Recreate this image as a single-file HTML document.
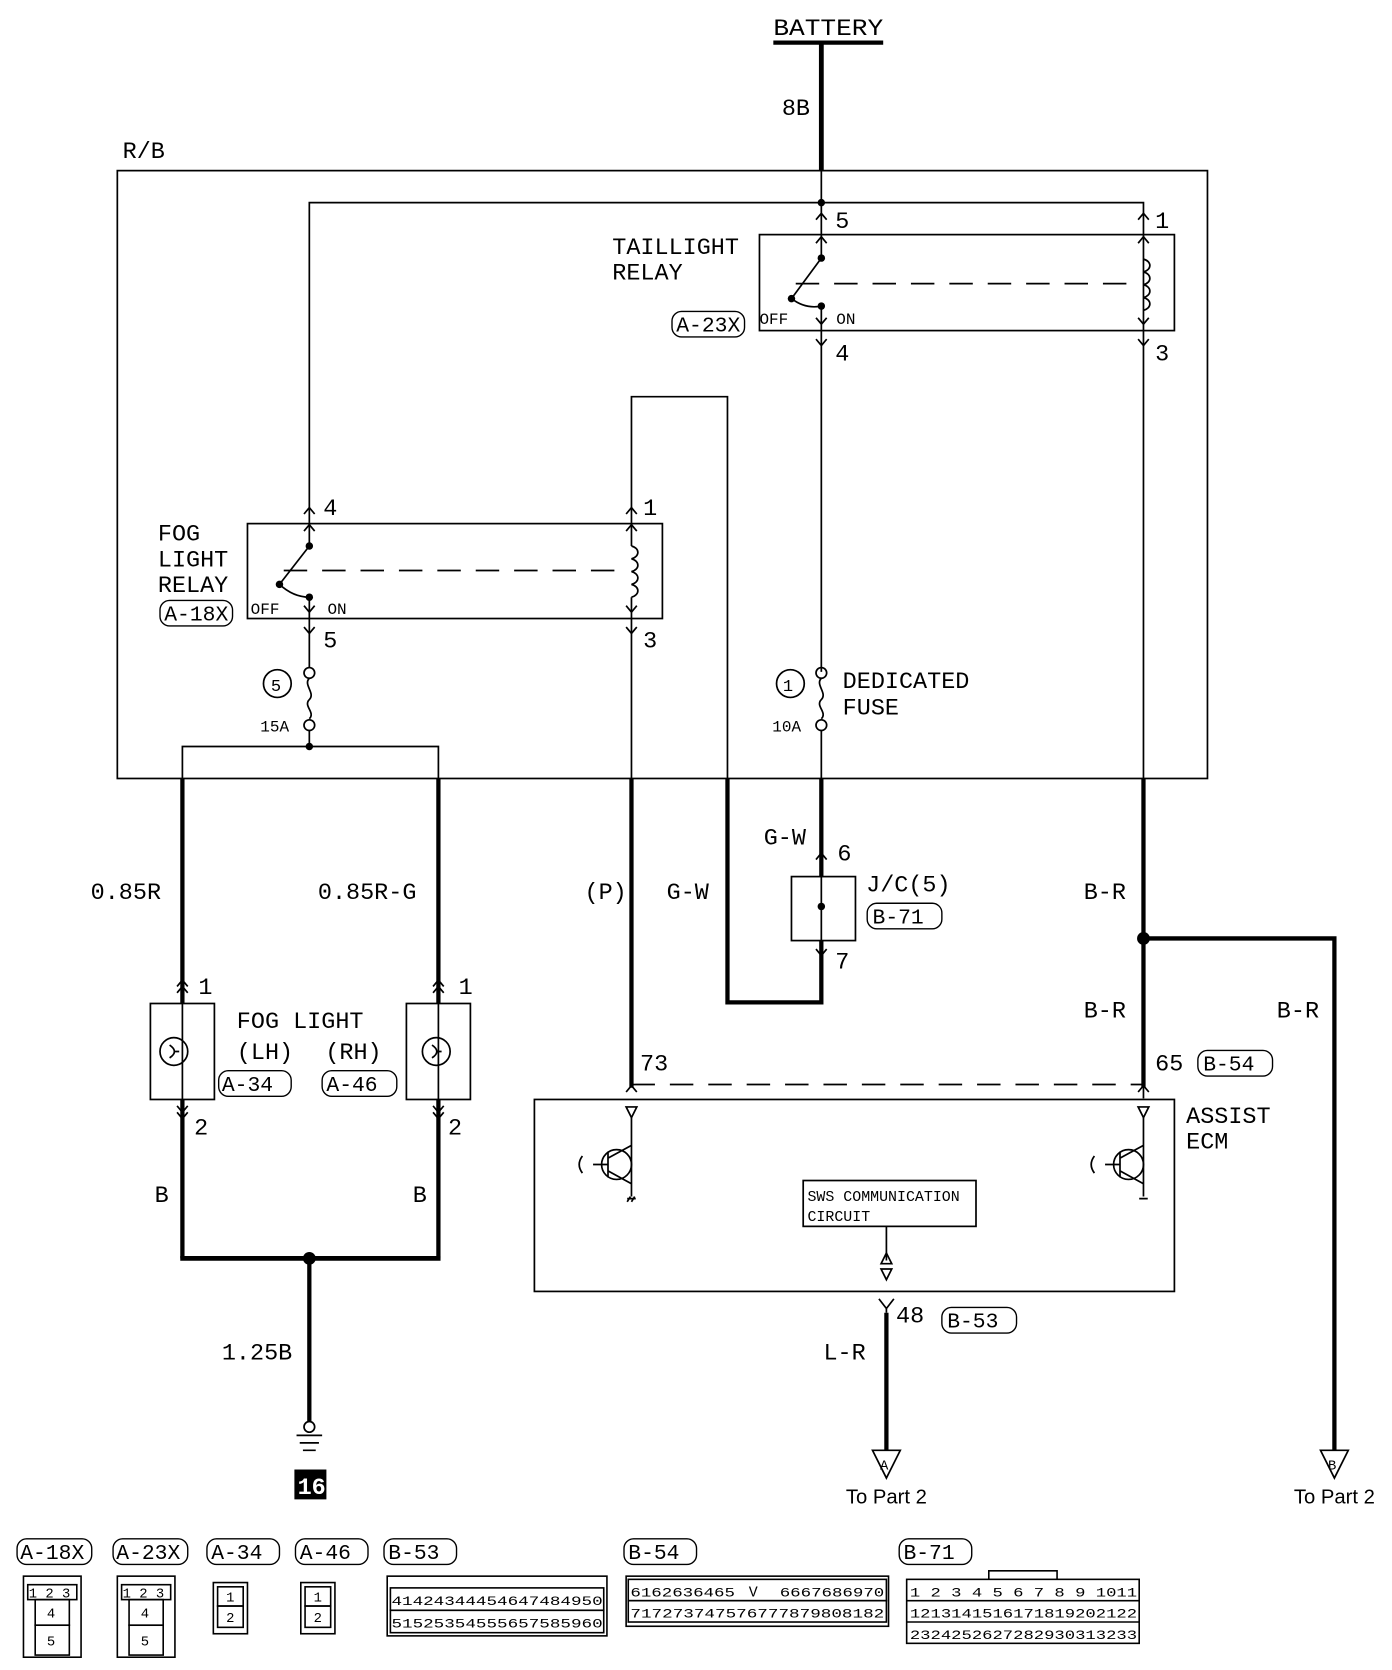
<!DOCTYPE html>
<html><head><meta charset="utf-8"><style>
html,body{margin:0;padding:0;background:#fff;}
svg{display:block}
text{font-family:"Liberation Mono",monospace;fill:#000}
text.sans{font-family:"Liberation Sans",sans-serif}
</style></head><body>
<svg width="1392" height="1670" viewBox="0 0 1305 1566" preserveAspectRatio="none" xmlns="http://www.w3.org/2000/svg">
<g stroke="#000" fill="none" stroke-width="1.6">
<line x1="725" y1="40" x2="828" y2="40" stroke-width="4"/>
<line x1="770" y1="40" x2="770" y2="160" stroke-width="4.5"/>
<rect x="110" y="160" width="1022" height="570"/>
<line x1="770" y1="160" x2="770" y2="222"/>
<polyline points="290,490 290,190 1072,190 1072,1030"/>
<rect x="712" y="220" width="389" height="90"/>
<line x1="770" y1="222" x2="770" y2="242"/>
<line x1="770" y1="242" x2="742" y2="280"/>
<path d="M742,280 Q755,290 770,287"/>
<line x1="770" y1="287" x2="770" y2="630"/>
<line x1="746" y1="266" x2="1066" y2="266" stroke-dasharray="22,14"/>
<path d="M1072,243 c8,2 8,10 0,12 c8,2 8,10 0,12 c8,2 8,10 0,12 c8,2 8,10 0,12"/>
<path d="M765,206 l5,-6 l5,6 M765,228 l5,-6 l5,6 M765,298 l5,6 l5,-6 M765,318 l5,6 l5,-6"/>
<path d="M1067,206 l5,-6 l5,6 M1067,228 l5,-6 l5,6 M1067,298 l5,6 l5,-6 M1067,318 l5,6 l5,-6"/>
<circle cx="770" cy="631" r="5"/>
<path d="M770,636 c-6,6 6,14 0,20 c-6,6 6,12 0,18"/>
<circle cx="770" cy="680" r="5"/>
<line x1="770" y1="685" x2="770" y2="730"/>
<line x1="770" y1="730" x2="770" y2="822" stroke-width="4"/>
<circle cx="741" cy="641" r="13"/>
<rect x="742" y="822" width="60" height="60"/>
<line x1="770" y1="822" x2="770" y2="882"/>
<polyline points="770,882 770,940 682,940 682,730" stroke-width="4"/>
<polyline points="682,730 682,372 592,372 592,490"/>
<path d="M765,806 l5,-6 l5,6 M765,890 l5,6 l5,-6"/>
<rect x="232" y="491" width="389" height="89"/>
<line x1="290" y1="490" x2="290" y2="512"/>
<line x1="290" y1="512" x2="262" y2="548"/>
<path d="M262,548 Q275,560 290,560"/>
<line x1="290" y1="560" x2="290" y2="626"/>
<line x1="266" y1="535" x2="586" y2="535" stroke-dasharray="22,14"/>
<line x1="592" y1="490" x2="592" y2="512"/>
<path d="M592,512 c8,2 8,10 0,12 c8,2 8,10 0,12 c8,2 8,10 0,12 c8,2 8,10 0,12"/>
<line x1="592" y1="560" x2="592" y2="730"/>
<line x1="592" y1="730" x2="592" y2="1020" stroke-width="4"/>
<path d="M285,482 l5,-6 l5,6 M285,498 l5,-6 l5,6 M285,568 l5,6 l5,-6 M285,588 l5,6 l5,-6"/>
<path d="M587,482 l5,-6 l5,6 M587,498 l5,-6 l5,6 M587,568 l5,6 l5,-6 M587,588 l5,6 l5,-6"/>
<circle cx="290" cy="631" r="5"/>
<path d="M290,636 c-6,6 6,14 0,20 c-6,6 6,12 0,18"/>
<circle cx="290" cy="680" r="5"/>
<line x1="290" y1="685" x2="290" y2="700"/>
<circle cx="260" cy="641" r="13"/>
<polyline points="171,730 171,700 411,700 411,730"/>
<line x1="171" y1="730" x2="171" y2="1180" stroke-width="4"/>
<line x1="411" y1="730" x2="411" y2="1180" stroke-width="4"/>
<line x1="169" y1="1180" x2="413" y2="1180" stroke-width="4.5"/>
<line x1="290" y1="1180" x2="290" y2="1333" stroke-width="4"/>
<rect x="141" y="941" width="60" height="90" fill="#fff"/>
<rect x="381" y="941" width="60" height="90" fill="#fff"/>
<circle cx="163" cy="986" r="13"/>
<circle cx="409" cy="986" r="13"/>
<path d="M159,980 q9,6 0,12 M405,980 q9,6 0,12 M163,986 h5 M409,986 h5"/>
<line x1="171" y1="925" x2="171" y2="1050"/>
<line x1="411" y1="925" x2="411" y2="1050"/>
<path d="M166,925 l5,-6 l5,6 M166,931 l5,-6 l5,6 M166,1037 l5,6 l5,-6 M166,1043 l5,6 l5,-6"/>
<path d="M406,925 l5,-6 l5,6 M406,931 l5,-6 l5,6 M406,1037 l5,6 l5,-6 M406,1043 l5,6 l5,-6"/>
<circle cx="290" cy="1338" r="5"/>
<path d="M278,1346 h24 M281,1353 h18 M284,1360 h12"/>
<line x1="592" y1="1017" x2="1072" y2="1017" stroke-dasharray="22,14"/>
<line x1="1072" y1="730" x2="1072" y2="1020" stroke-width="4"/>
<polyline points="1072,880 1251,880 1251,1360" stroke-width="4"/>
<path d="M587,1024 l5,-6 l5,6 M1067,1024 l5,-6 l5,6"/>
<rect x="501" y="1031" width="600" height="180"/>
<path d="M587,1038 h10 l-5,10 z M1067,1038 h10 l-5,10 z"/>
<line x1="592" y1="1048" x2="592" y2="1122"/>
<line x1="1072" y1="1048" x2="1072" y2="1122"/>
<circle cx="578" cy="1092" r="14"/>
<circle cx="1058" cy="1092" r="14"/>
<path d="M570,1080 v24 M570,1086 l22,-12 M570,1098 l22,12 M556,1092 h14 M546,1084 q-6,8 0,16"/>
<path d="M1050,1080 v24 M1050,1086 l22,-12 M1050,1098 l22,12 M1036,1092 h14 M1026,1084 q-6,8 0,16"/>
<path d="M588,1124 h8 M588,1127 l3,-5 M592,1127 l3,-5 M1068,1124 h8"/>
<rect x="753" y="1107" width="162" height="43"/>
<line x1="831" y1="1150" x2="831" y2="1182"/>
<path d="M826,1185 l5,-10 l5,10 z M826,1190 h10 l-5,10 z"/>
<path d="M824,1218 l7,9 l7,-9 M831,1227 v4"/>
<line x1="831" y1="1231" x2="831" y2="1360" stroke-width="4"/>
<path d="M818,1360 h26 l-13,26 z M1238,1360 h26 l-13,26 z"/>
</g>
<g fill="#000">
<circle cx="770" cy="190" r="3.5"/><circle cx="770" cy="242" r="3.5"/><circle cx="742" cy="280" r="3.5"/><circle cx="770" cy="287" r="3.5"/>
<circle cx="290" cy="512" r="3.5"/><circle cx="262" cy="548" r="3.5"/><circle cx="290" cy="560" r="3.5"/>
<circle cx="290" cy="700" r="3.5"/><circle cx="770" cy="850" r="3.5"/>
<circle cx="1072" cy="880" r="6"/><circle cx="290" cy="1180" r="6"/>
<rect x="276" y="1378" width="30" height="28"/>
</g>
<g font-size="22">
<text x="725" y="33" textLength="103" lengthAdjust="spacingAndGlyphs">BATTERY</text>
<text x="733" y="108">8B</text>
<text x="115" y="148">R/B</text>
<text x="574" y="238">TAILLIGHT</text><text x="574" y="262">RELAY</text>
<text x="783" y="214">5</text><text x="1083" y="214">1</text>
<text x="783" y="338">4</text><text x="1083" y="338">3</text>
<text x="148" y="507">FOG</text><text x="148" y="531">LIGHT</text><text x="148" y="555">RELAY</text>
<text x="303" y="483">4</text><text x="603" y="483">1</text>
<text x="303" y="607">5</text><text x="603" y="607">3</text>
<text x="790" y="645">DEDICATED</text><text x="790" y="670">FUSE</text>
<text x="716" y="792">G-W</text><text x="785" y="807">6</text>
<text x="812" y="836">J/C(5)</text><text x="783" y="908">7</text>
<text x="85" y="843">0.85R</text><text x="298" y="843">0.85R-G</text>
<text x="548" y="843">(P)</text><text x="625" y="843">G-W</text>
<text x="1016" y="843">B-R</text><text x="1016" y="954">B-R</text><text x="1197" y="954">B-R</text>
<text x="186" y="932">1</text><text x="430" y="932">1</text>
<text x="182" y="1064">2</text><text x="420" y="1064">2</text>
<text x="222" y="964">FOG LIGHT</text><text x="222" y="993">(LH)</text><text x="305" y="993">(RH)</text>
<text x="145" y="1127">B</text><text x="387" y="1127">B</text>
<text x="208" y="1275">1.25B</text>
<text x="600" y="1004">73</text><text x="1083" y="1004">65</text>
<text x="1112" y="1053">ASSIST</text><text x="1112" y="1077">ECM</text>
<text x="840" y="1240">48</text><text x="772" y="1275">L-R</text>
</g>
<g font-size="18">
<text x="712" y="304" font-size="15">OFF</text><text x="784" y="304" font-size="15">ON</text>
<text x="235" y="576" font-size="15">OFF</text><text x="307" y="576" font-size="15">ON</text>
<text x="734" y="648" font-size="16">1</text><text x="254" y="648" font-size="16">5</text>
<text x="724" y="686" font-size="15">10A</text><text x="244" y="686" font-size="15">15A</text>
<text x="757" y="1126" font-size="14">SWS COMMUNICATION</text><text x="757" y="1145" font-size="14">CIRCUIT</text>
<text x="825" y="1378" font-size="13">A</text><text x="1245" y="1378" font-size="13">B</text>
<text x="279" y="1401" font-size="22" font-weight="bold" style="fill:#fff">16</text>
<text x="831" y="1410" class="sans" text-anchor="middle" font-size="19">To Part 2</text>
<text x="1251" y="1410" class="sans" text-anchor="middle" font-size="19">To Part 2</text>
</g>
<g font-size="20" stroke="#000" stroke-width="1.3">
<rect x="630" y="292" width="68" height="24" rx="9" fill="none"/><text x="634" y="311" stroke="none">A-23X</text>
<rect x="150" y="563" width="68" height="24" rx="9" fill="none"/><text x="154" y="582" stroke="none">A-18X</text>
<rect x="813" y="847" width="70" height="24" rx="9" fill="none"/><text x="818" y="866" stroke="none">B-71</text>
<rect x="205" y="1004" width="68" height="24" rx="9" fill="none"/><text x="208" y="1023" stroke="none">A-34</text>
<rect x="302" y="1004" width="70" height="24" rx="9" fill="none"/><text x="306" y="1023" stroke="none">A-46</text>
<rect x="1123" y="985" width="70" height="24" rx="9" fill="none"/><text x="1128" y="1004" stroke="none">B-54</text>
<rect x="883" y="1226" width="70" height="24" rx="9" fill="none"/><text x="888" y="1245" stroke="none">B-53</text>
<rect x="16" y="1443" width="70" height="24" rx="9" fill="none"/><text x="19" y="1462" stroke="none">A-18X</text>
<rect x="106" y="1443" width="70" height="24" rx="9" fill="none"/><text x="109" y="1462" stroke="none">A-23X</text>
<rect x="194" y="1443" width="68" height="24" rx="9" fill="none"/><text x="198" y="1462" stroke="none">A-34</text>
<rect x="277" y="1443" width="68" height="24" rx="9" fill="none"/><text x="281" y="1462" stroke="none">A-46</text>
<rect x="360" y="1443" width="68" height="24" rx="9" fill="none"/><text x="364" y="1462" stroke="none">B-53</text>
<rect x="585" y="1443" width="68" height="24" rx="9" fill="none"/><text x="589" y="1462" stroke="none">B-54</text>
<rect x="843" y="1443" width="68" height="24" rx="9" fill="none"/><text x="847" y="1462" stroke="none">B-71</text>
</g>
<g stroke="#000" stroke-width="1.5" fill="none">
<rect x="22" y="1478" width="54" height="76"/><rect x="26" y="1486" width="46" height="14"/><rect x="33" y="1500" width="32" height="24"/><rect x="33" y="1524" width="32" height="28"/>
<rect x="110" y="1478" width="54" height="76"/><rect x="114" y="1486" width="46" height="14"/><rect x="121" y="1500" width="32" height="24"/><rect x="121" y="1524" width="32" height="28"/>
<rect x="200" y="1484" width="32" height="48"/><rect x="204" y="1488" width="24" height="18"/><rect x="204" y="1506" width="24" height="20"/>
<rect x="282" y="1484" width="32" height="48"/><rect x="286" y="1488" width="24" height="18"/><rect x="286" y="1506" width="24" height="20"/>
<rect x="363" y="1478" width="206" height="56"/><rect x="366" y="1489" width="200" height="21"/><rect x="366" y="1510" width="200" height="21"/>
<rect x="587" y="1478" width="246" height="47"/><rect x="589" y="1481" width="242" height="20"/><rect x="589" y="1501" width="242" height="20"/>
<rect x="850" y="1481" width="218" height="60"/><path d="M850,1501 h218 M850,1521 h218 M927,1481 v-8 h64 v8"/>
</g>
<g font-size="13">
<text x="27" y="1498">1 2 3</text><text x="44" y="1517">4</text><text x="44" y="1543">5</text>
<text x="115" y="1498">1 2 3</text><text x="132" y="1517">4</text><text x="132" y="1543">5</text>
<text x="212" y="1502">1</text><text x="212" y="1521">2</text>
<text x="294" y="1502">1</text><text x="294" y="1521">2</text>
<text x="367" y="1505" font-size="12" textLength="198" lengthAdjust="spacingAndGlyphs">41424344454647484950</text>
<text x="367" y="1526" font-size="12" textLength="198" lengthAdjust="spacingAndGlyphs">51525354555657585960</text>
<text x="591" y="1497" font-size="12" textLength="98" lengthAdjust="spacingAndGlyphs">6162636465</text>
<text x="731" y="1497" font-size="12" textLength="98" lengthAdjust="spacingAndGlyphs">6667686970</text>
<text x="702" y="1497" font-size="14">V</text>
<text x="591" y="1517" font-size="12" textLength="238" lengthAdjust="spacingAndGlyphs">717273747576777879808182</text>
<text x="853" y="1497" font-size="12" textLength="213" lengthAdjust="spacingAndGlyphs">1 2 3 4 5 6 7 8 9 1011</text>
<text x="853" y="1517" font-size="12" textLength="213" lengthAdjust="spacingAndGlyphs">1213141516171819202122</text>
<text x="853" y="1537" font-size="12" textLength="213" lengthAdjust="spacingAndGlyphs">2324252627282930313233</text>
</g>
</svg>
</body></html>
